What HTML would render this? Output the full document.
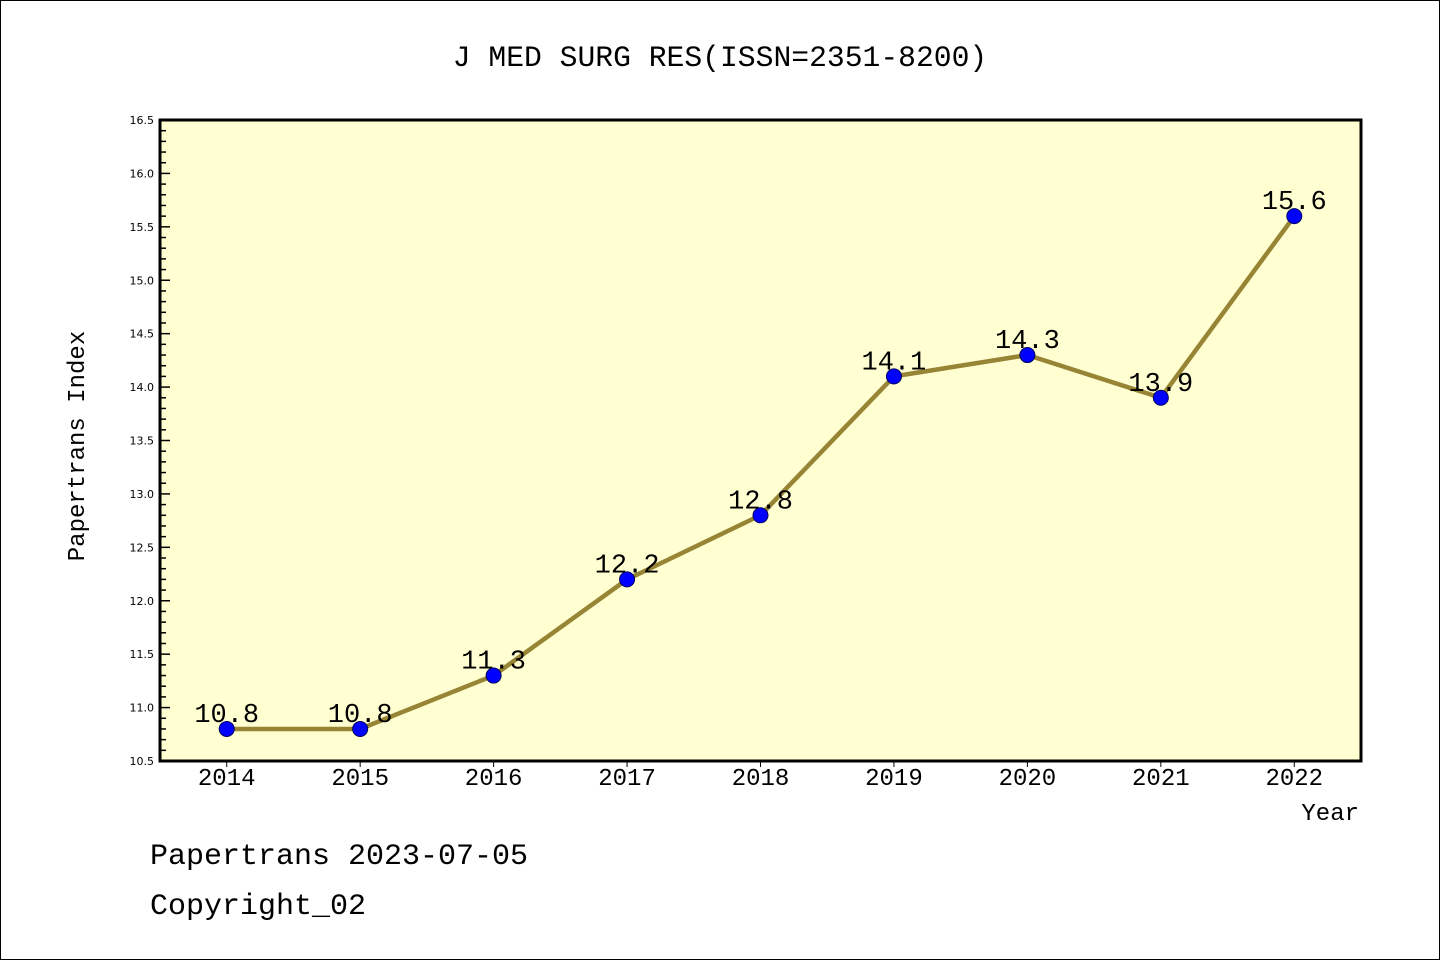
<!DOCTYPE html>
<html><head><meta charset="utf-8">
<style>
html,body{margin:0;padding:0;background:#fff;}
svg{display:block;}
text{font-family:"Liberation Mono","DejaVu Sans Mono",monospace;fill:#000;}
</style></head>
<body>
<svg id="chart" width="1440" height="960" viewBox="0 0 1440 960" xmlns="http://www.w3.org/2000/svg">
<rect x="0.5" y="0.5" width="1439" height="959" fill="#fff" stroke="#000" stroke-width="1"/>
<text x="720" y="66" font-size="29.7" text-anchor="middle">J MED SURG RES(ISSN=2351-8200)</text>
<rect x="160" y="120" width="1201" height="641" fill="#ffffd2"/>
<g id="yticks"></g>
<g id="xticks"></g>
<g id="series"></g>
<rect x="160" y="120" width="1201" height="641" fill="none" stroke="#000" stroke-width="3"/>
<text x="0" y="0" font-size="24" text-anchor="middle" transform="translate(84,446) rotate(-90)">Papertrans Index</text>
<text x="1359" y="820" font-size="24" text-anchor="end">Year</text>
<text x="150" y="864" font-size="30">Papertrans 2023-07-05</text>
<text x="150" y="914" font-size="30">Copyright_02</text>
</svg>
<script>
const years = ["2014","2015","2016","2017","2018","2019","2020","2021","2022"];
const values = [10.8,10.8,11.3,12.2,12.8,14.1,14.3,13.9,15.6];
const valueLabels = ["10.8","10.8","11.3","12.2","12.8","14.1","14.3","13.9","15.6"];
const yTickLabels = ["10.5","11.0","11.5","12.0","12.5","13.0","13.5","14.0","14.5","15.0","15.5","16.0","16.5"];
const yMin = 10.5, yMax = 16.5;
const NS = "http://www.w3.org/2000/svg";
const L=160,R=1361,T=120,B=761;
const xs = i => L + (R-L)/years.length*(i+0.5);
const ys = v => B - (v-yMin)/(yMax-yMin)*(B-T);
function mk(tag, attrs, parent){const e=document.createElementNS(NS,tag);for(const k in attrs)e.setAttribute(k,attrs[k]);parent.appendChild(e);return e;}
const yg=document.getElementById('yticks'), xg=document.getElementById('xticks'), sg=document.getElementById('series');
for(let k=0;k<=60;k++){
  const v=yMin+k*0.1, y=ys(v), major=k%5===0;
  const t=mk('line',{x1:L,x2:L+(major?10:6),y1:y,y2:y,stroke:'#000','stroke-width':1.5},yg);
  
  
}
yTickLabels.forEach(s=>{
  const tx=mk('text',{x:L-6,y:ys(parseFloat(s))+4,'font-size':11,'text-anchor':'end',style:'font-family:"DejaVu Sans",sans-serif'},yg);
  tx.textContent=s;
  
  
});
years.forEach((yr,i)=>{
  const x=xs(i);
  const t=mk('line',{x1:x,x2:x,y1:B,y2:B+6,stroke:'#000','stroke-width':1},xg);
  
  
  const tx=mk('text',{x:x,y:785,'font-size':24,'text-anchor':'middle'},xg);
  tx.textContent=yr;
  
  
});
const pts=values.map((v,i)=>xs(i)+','+ys(v)).join(' ');
const line=mk('polyline',{points:pts,fill:'none',stroke:'#978535','stroke-width':4.5,'stroke-linejoin':'round'},sg);


values.forEach((v,i)=>{
  const c=mk('circle',{cx:xs(i),cy:ys(v),r:7.5,fill:'#0000ff',stroke:'#000060','stroke-width':1},sg);
  
  
});
values.forEach((v,i)=>{
  const tx=mk('text',{x:xs(i),y:ys(v)-7,'font-size':27,'text-anchor':'middle'},sg);
  tx.textContent=valueLabels[i];
  
  
});
</script>
</body></html>
